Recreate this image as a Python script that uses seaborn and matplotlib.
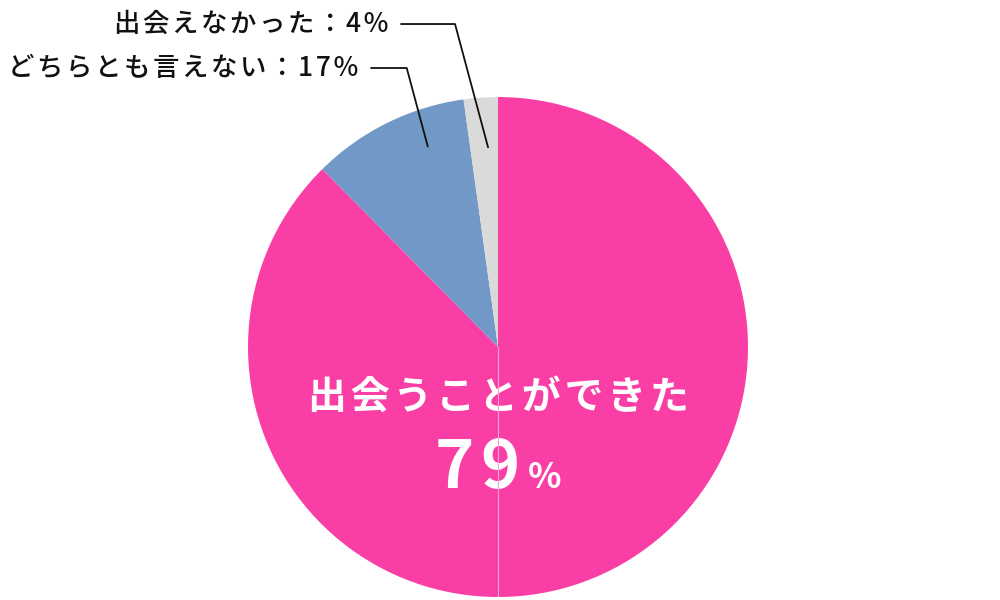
import numpy as np
import seaborn as sns
import matplotlib.pyplot as plt

# ----- data (slice sizes as drawn, labels as printed) ----- #
categories = ['出会うことができた', 'どちらとも言えない', '出会えなかった']
slice_sizes = [87.6, 10.2, 2.2]
label_pct = [79, 17, 4]
colors = ['#F93FA5', '#7198C6', '#DADADA']

sns.set_theme(style='white')
plt.rcParams['font.family'] = ['Noto Sans CJK JP', 'DejaVu Sans']


def spaced(s, gap='\u200a'):
    # fake letter spacing with hair spaces from DejaVu Sans
    return gap.join(s)


fig = plt.figure(figsize=(10, 6), dpi=100)
ax = fig.add_axes([0.248, 0.005, 0.5, 0.8333])

wedges, _ = ax.pie(slice_sizes, colors=colors, startangle=90, counterclock=False,
                   radius=1, wedgeprops=dict(linewidth=0), frame=False)
ax.set_xlim(-1, 1)
ax.set_ylim(-1, 1)
ax.set_aspect('equal')
ax.axis('off')

# faint seam at the bottom of the big slice
ax.plot([0, 0], [0, -1], color='#F6A3CF', lw=0.8, zorder=5)

# ----- outside labels with leader lines ----- #
label_pos = {1: (-0.56, 1.116), 2: (-0.44, 1.292)}
anchor_r = {1: 0.85, 2: 0.8}
anchor_f = {1: 0.31, 2: 0.36}
for i in (1, 2):
    w = wedges[i]
    th = np.deg2rad(w.theta1 + anchor_f[i] * (w.theta2 - w.theta1))
    anchor = (anchor_r[i] * np.cos(th), anchor_r[i] * np.sin(th))
    ax.annotate(spaced(f'{categories[i]}：{label_pct[i]}%'), xy=anchor,
                xytext=label_pos[i], ha='right', va='center', fontsize=19,
                fontweight='medium', color='#111111', annotation_clip=False,
                arrowprops=dict(arrowstyle='-', color='#111111', lw=1.3,
                                relpos=(1, 0.5), shrinkA=7, shrinkB=0,
                                connectionstyle='angle,angleA=0,angleB=105'))

# ----- inner label ----- #
ax.text(0.0, -0.205, spaced(categories[0]), ha='center', va='center', fontsize=28,
        fontweight='bold', color='white')
ax.text(0.088, -0.564, spaced(str(label_pct[0])), ha='right', va='baseline',
        fontsize=48, fontweight='bold', color='white')
ax.text(0.12, -0.564, '%', ha='left', va='baseline', fontsize=25,
        fontweight='bold', color='white')

fig.savefig('out.png', dpi=100, facecolor='white')
